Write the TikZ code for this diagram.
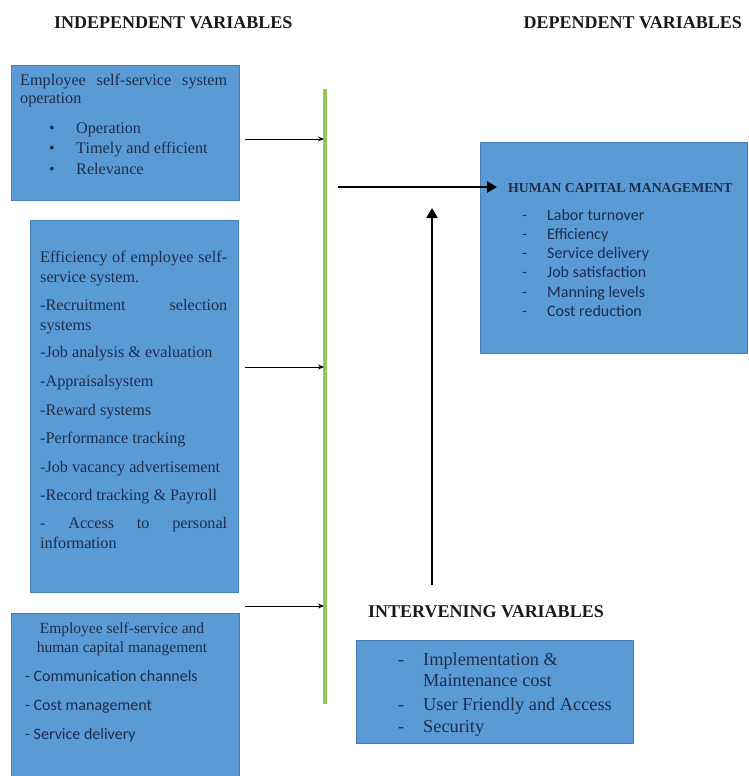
\documentclass[tikz,border=0pt]{standalone}
\usepackage{fontspec}
\setmainfont{Liberation Serif}
\newfontfamily\calfont{Carlito}
\usetikzlibrary{arrows.meta}
\definecolor{boxfill}{HTML}{5B9BD5}
\definecolor{boxedge}{HTML}{4A7FB5}
\definecolor{txtcol}{HTML}{1E2D4A}
\definecolor{linegreen}{HTML}{92C85A}
\definecolor{headcol}{HTML}{1A1A1A}
\begin{document}
\begin{tikzpicture}[x=1pt,y=-1pt,
  box/.style={draw=boxedge,fill=boxfill,line width=0.8pt},
  txt/.style={anchor=base west,inner sep=0pt,text=txtcol,font=\fontsize{16.2}{19}\selectfont},
  ctxt/.style={txt,anchor=base,font=\fontsize{15.5}{18}\selectfont},
  stxt/.style={txt,font=\calfont\fontsize{16}{19}\selectfont},
  itxt/.style={txt,font=\fontsize{18.3}{21}\selectfont},
  head/.style={anchor=base west,inner sep=0pt,text=headcol,font=\bfseries\fontsize{18}{21}\selectfont},
  hcm/.style={anchor=base west,inner sep=0pt,text=txtcol,font=\bfseries\fontsize{13.7}{16}\selectfont},
  smallarrow/.style={draw=black,line width=0.9pt,-{Stealth[length=6pt,width=5pt]}},
  bigarrow/.style={draw=black,line width=2.8pt,-{Triangle[length=10pt,width=11pt]}}]
\useasboundingbox (0,0) rectangle (749,776);
\fill[white] (0,0) rectangle (749,776);
% headings
\node[head] (hind) at (54,29) {INDEPENDENT VARIABLES};
\node[head,anchor=base east] (hdep) at (742,29) {DEPENDENT VARIABLES};
\node[head] (hint) at (368,617) {INTERVENING VARIABLES};
% boxes
\node[box,minimum width=228pt,minimum height=135pt,anchor=north west,inner sep=0pt] (b1) at (11,65) {};
\node[box,minimum width=208pt,minimum height=372pt,anchor=north west,inner sep=0pt] (b2) at (30,220) {};
\node[box,minimum width=228pt,minimum height=165pt,anchor=north west,inner sep=0pt] (b3) at (11,613) {};
\node[box,minimum width=267pt,minimum height=211pt,anchor=north west,inner sep=0pt] (b4) at (480,142) {};
\node[box,minimum width=277pt,minimum height=103pt,anchor=north west,inner sep=0pt] (b5) at (356,640) {};
% box 1 text
\node[txt] (t11) at (20,85) {\makebox[207pt][s]{Employee self-service system}};
\node[txt] (t12) at (20,103) {operation};
\node[txt] (d11) at (49,133) {\textbullet};
\node[txt] (d12) at (49,153) {\textbullet};
\node[txt] (d13) at (49,174) {\textbullet};
\node[txt] (t13) at (76,133) {Operation};
\node[txt] (t14) at (76,153) {Timely and efficient};
\node[txt] (t15) at (76,174) {Relevance};
% box 2 text
\node[txt] (t21) at (40,262) {\makebox[187pt][s]{Efficiency of employee self-}};
\node[txt] (t22) at (40,282) {service system.};
\node[txt] (t23) at (40,310) {\makebox[187pt][s]{-Recruitment selection}};
\node[txt] (t24) at (40,330) {systems};
\node[txt] (t25) at (40,357) {-Job analysis \& evaluation};
\node[txt] (t26) at (40,386) {-Appraisalsystem};
\node[txt] (t27) at (40,415) {-Reward systems};
\node[txt] (t28) at (40,443) {-Performance tracking};
\node[txt] (t29) at (40,472) {-Job vacancy advertisement};
\node[txt] (t2a) at (40,500) {-Record tracking \& Payroll};
\node[txt] (t2b) at (40,528) {\makebox[187pt][s]{- Access to personal}};
\node[txt] (t2c) at (40,548) {information};
% box 3 text
\node[ctxt] (t31) at (122,633) {Employee self-service and};
\node[ctxt] (t32) at (122,652) {human capital management};
\node[stxt] (t33) at (25,681) {- Communication channels};
\node[stxt] (t34) at (25,710) {- Cost management};
\node[stxt] (t35) at (25,739) {- Service delivery};
% HCM box text
\node[hcm] (t41) at (508,192) {HUMAN CAPITAL MANAGEMENT};
\foreach \yy/\tt [count=\i] in {220/Labor turnover,239/Efficiency,258/Service delivery,277/Job satisfaction,297/Manning levels,316/Cost reduction}{
  \node[stxt] (d4\i) at (522,\yy) {-};
  \node[stxt] (t4\i) at (547,\yy) {\tt};
}
% intervening box text
\node[itxt] (d51) at (398,665) {-};
\node[itxt] (t51) at (423,665) {Implementation \&};
\node[itxt] (t52) at (423,686) {Maintenance cost};
\node[itxt] (d53) at (398,710) {-};
\node[itxt] (t53) at (423,710) {User Friendly and Access};
\node[itxt] (d54) at (398,732) {-};
\node[itxt] (t54) at (423,732) {Security};
% green line
\coordinate (gtop) at (325,89);
\coordinate (gbot) at (325,704);
\draw[linegreen,line width=3.6pt] (gtop) -- (gbot);
% arrows to the line
\coordinate (a1s) at (245,139); \coordinate (a1e) at (324,139);
\coordinate (a2s) at (245,367); \coordinate (a2e) at (324,367);
\coordinate (a3s) at (245,606); \coordinate (a3e) at (324,606);
\draw[smallarrow] (a1s) -- (a1e);
\draw[smallarrow] (a2s) -- (a2e);
\draw[smallarrow] (a3s) -- (a3e);
% thick arrows
\coordinate (ms) at (338,187);
\coordinate (me) at (497,187);
\draw[bigarrow] (ms) -- (me);
\coordinate (vs) at (432,585);
\coordinate (ve) at (432,208);
\draw[bigarrow] (vs) -- (ve);
\end{tikzpicture}
\end{document}
